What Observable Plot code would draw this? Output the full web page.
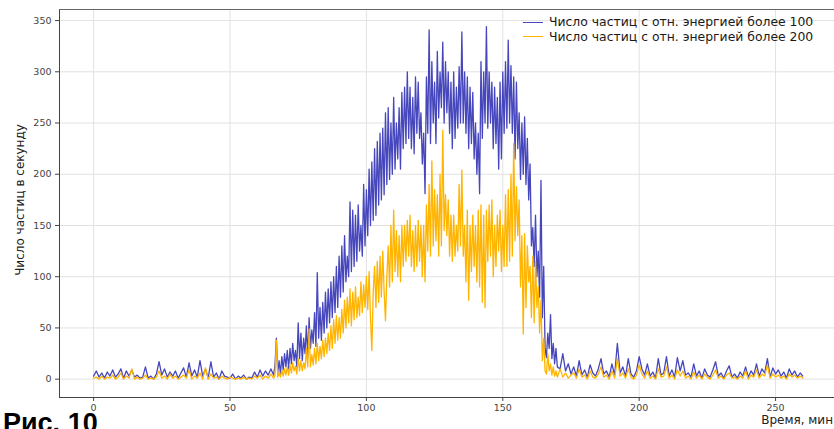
<!DOCTYPE html>
<html><head><meta charset="utf-8">
<script src="https://cdn.jsdelivr.net/npm/d3@7"></script>
<script src="https://cdn.jsdelivr.net/npm/@observablehq/plot@0.6"></script>
<style>
html,body{margin:0;padding:0;background:#fff;overflow:hidden;width:834px;height:429px;}
#wrap{position:relative;width:834px;height:429px;}
#legend{position:absolute;left:523px;top:15px;font-family:"DejaVu Sans",sans-serif;font-size:12.4px;color:#1a1a1a;line-height:14.5px;}
#legend .row{display:flex;align-items:center;}
#legend .sw{width:20px;height:0;border-top:1.3px solid;margin-right:6px;}
#xlabel{position:absolute;right:1px;top:413px;font-family:"DejaVu Sans",sans-serif;font-size:12px;line-height:14px;color:#222;}
#ylabel{position:absolute;left:20px;top:200px;transform:translate(-50%,-50%) rotate(-90deg);white-space:nowrap;font-family:"DejaVu Sans",sans-serif;font-size:12px;color:#222;}
#cap{position:absolute;left:3px;top:413px;font-family:"Liberation Sans",Arial,sans-serif;font-weight:bold;font-size:27px;color:#000;line-height:20px;}
</style></head>
<body><div id="wrap"></div>
<script>
const seriesNames = ["Число частиц с отн. энергией более 100", "Число частиц с отн. энергией более 200"];
const seriesColors = ["#4646bd", "#ffb400"];
const xTicks = [0, 50, 100, 150, 200, 250];
const yTicks = [0, 50, 100, 150, 200, 250, 300, 350];
const xLabel = "Время, мин";
const yLabel = "Число частиц в секунду";
const caption = "Рис. 10";

// before the event: minutes 0..65, one value per minute
const before100 = [
3,8,2,6,1,7,3,9,2,5, 10,1,8,3,9,2,4,1,2,12, 1,3,0,5,17,4,10,2,7,3,
8,1,6,11,2,16,3,9,2,18, 3,10,1,17,2,6,0,8,3,2, 1,5,0,3,1,4,0,2,1,7,
2,9,3,8,4,10
];
const before200 = [
1,2,0,3,0,2,1,4,0,2, 6,0,3,1,10,0,2,0,1,4, 0,1,0,2,8,1,3,0,5,1,
3,0,2,4,1,9,0,3,1,6, 0,11,0,5,1,2,0,3,1,0, 2,1,0,1,0,2,0,1,0,3,
1,4,0,3,1,5
];
// the event: minutes 66..170, one value per half minute
const event100 = [
4,14,40,6,18,5,22,9,25,12, 28,10,30,15,35,18,28,12,55,20,
45,18,40,25,52,22,60,30,48,35, 65,32,104,40,70,38,75,45,85,50,
88,55,95,60,100,65,110,70,120,80, 130,85,140,95,120,100,173,105,165,110,
160,115,170,125,150,120,190,130,185,140, 205,150,212,155,225,160,232,170,240,175,
245,180,260,190,265,195,250,200,275,205, 250,215,265,205,280,225,285,230,300,235,
285,225,275,220,295,240,290,235,260,210, 240,181,295,240,341,230,310,250,290,230,
320,255,300,265,329,250,310,260,300,240, 290,225,300,235,285,245,305,250,339,250,
300,240,295,225,285,230,280,215,250,200, 240,181,310,235,300,250,344,245,300,250,
290,225,285,230,275,205,290,215,300,240, 310,245,331,250,306,240,295,215,290,225,
260,195,250,200,256,190,235,175,210,130, 148,110,160,100,125,80,194,60,110,30,
21,45,30,63,20,35,15,30,12
];
const event200 = [
1,4,38,2,6,2,9,3,10,4, 12,4,14,6,16,8,13,5,20,8,
18,8,16,10,30,12,49,12,24,14, 30,15,35,18,32,20,38,22,40,25,
45,28,52,30,58,35,62,38,60,40, 68,45,77,50,80,55,88,52,85,58,
90,60,80,62,95,65,92,70,100,68, 105,60,28,85,110,70,115,75,120,80,
125,85,57,100,130,90,150,95,165,105, 145,100,140,95,150,110,150,115,155,120,
160,110,145,105,150,110,155,115,150,100, 150,95,170,125,190,120,213,130,185,135,
180,120,200,130,243,145,180,140,175,120, 160,115,160,120,150,125,190,130,204,120,
150,95,165,77,150,105,160,110,150,95, 165,90,170,75,160,70,165,115,170,120,
175,100,150,110,160,125,165,105,150,110, 180,110,185,115,200,120,230,135,188,140,
175,90,140,44,142,70,130,95,110,60, 120,55,115,70,90,45,77,18,40,8,
5,25,8,15,4,12,3,8,2
];
// after the event: minutes 171..260, one value per minute
const after100 = [
10,25,8,15,5,12,3,18,4,
9,2,14,6,3,10,20,5,8,2, 15,4,35,6,12,3,20,5,2,8,
22,10,4,15,3,7,1,20,4,6, 22,3,9,2,21,8,18,4,6,2,
15,3,8,1,10,4,2,9,17,3, 6,1,8,13,2,5,1,7,3,12,
2,8,4,15,3,10,6,20,2,11, 5,9,3,7,1,10,4,8,2,6, 3
];
const after200 = [
10,2,6,1,4,6,1,10,2,
4,0,8,2,1,5,12,2,4,0, 8,1,20,3,6,1,10,2,0,4,
14,5,1,8,1,3,0,10,2,3, 12,1,4,0,9,3,8,1,3,0,
7,1,4,0,5,2,0,4,9,1, 3,0,4,6,1,2,0,3,1,8,
0,4,2,9,1,5,3,14,1,5, 2,4,1,3,0,5,2,4,1,3, 1
];

function build(name, b, e, a) {
  const rows = [];
  b.forEach((v, i) => rows.push({t: i, v, s: name}));
  e.forEach((v, i) => rows.push({t: 66 + i / 2, v, s: name}));
  a.forEach((v, i) => rows.push({t: 171 + i, v, s: name}));
  return rows;
}
const data = build(seriesNames[0], before100, event100, after100)
  .concat(build(seriesNames[1], before200, event200, after200));

const chart = Plot.plot({
  width: 834, height: 429,
  marginLeft: 59, marginTop: 9, marginBottom: 32, marginRight: 0,
  style: {fontFamily: "DejaVu Sans, sans-serif", fontSize: "9.5px", color: "#444", background: "transparent"},
  x: {domain: [-12.5, 271.6]},
  y: {domain: [-17.9, 360.8]},
  color: {domain: seriesNames, range: seriesColors},
  marks: [
    Plot.gridX(xTicks, {stroke: "#e2e2e2", strokeOpacity: 1}),
    Plot.gridY(yTicks, {stroke: "#e2e2e2", strokeOpacity: 1}),
    Plot.line(data, {x: "t", y: "v", z: "s", stroke: "s", strokeWidth: 1.3}),
    Plot.axisX({ticks: xTicks, tickSize: 4, tickPadding: 3, label: null, stroke: "#444"}),
    Plot.axisY({ticks: yTicks, tickSize: 4, tickPadding: 4, label: null, stroke: "#444"}),
    Plot.frame({anchor: "left", stroke: "#444"}),
    Plot.frame({anchor: "top", stroke: "#666"}),
    Plot.frame({anchor: "bottom", stroke: "#444"})
  ]
});
const wrap = document.getElementById("wrap");
wrap.appendChild(chart);
chart.style.position = "absolute"; chart.style.left = "0"; chart.style.top = "0";

const leg = document.createElement("div"); leg.id = "legend";
seriesNames.forEach((n, i) => {
  const r = document.createElement("div"); r.className = "row";
  const sw = document.createElement("span"); sw.className = "sw"; sw.style.borderTopColor = seriesColors[i];
  const tx = document.createElement("span"); tx.textContent = n;
  r.appendChild(sw); r.appendChild(tx); leg.appendChild(r);
});
wrap.appendChild(leg);
const xl = document.createElement("div"); xl.id = "xlabel"; xl.textContent = xLabel; wrap.appendChild(xl);
const yl = document.createElement("div"); yl.id = "ylabel"; yl.textContent = yLabel; wrap.appendChild(yl);
const cp = document.createElement("div"); cp.id = "cap"; cp.textContent = caption; wrap.appendChild(cp);
</script></body></html>
